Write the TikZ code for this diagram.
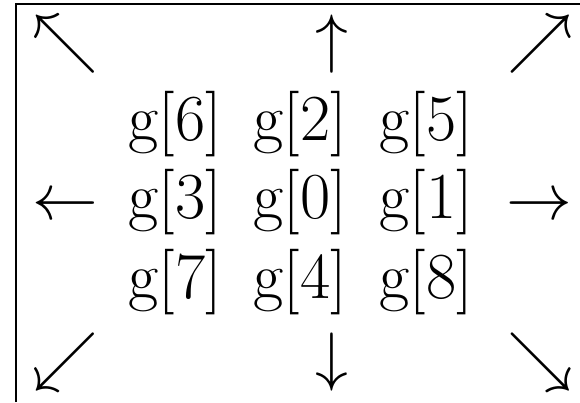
\documentclass[tikz,border=0pt]{standalone}
\tikzset{
  big/.style={inner sep=0pt, font=\Huge, scale=2.64},
  cell/.style={big, anchor=center},
  arr/.style={big, anchor=base},
  frameline/.style={line width=1.2pt}
}
\begin{document}
\begin{tikzpicture}[x=1pt,y=1pt]
\useasboundingbox (0,0) rectangle (580,402);
\draw[frameline] (16,0) -- (16,398) -- (580,398);
% grid of g[i]
\node[cell] (g6) at (175,277.5) {g[6]};
\node[cell] (g2) at (300,277.5) {g[2]};
\node[cell] (g5) at (426,277.5) {g[5]};
\node[cell] (g3) at (175,199.5) {g[3]};
\node[cell] (g0) at (300,199.5) {g[0]};
\node[cell] (g1) at (426,199.5) {g[1]};
\node[cell] (g7) at (175,119.5) {g[7]};
\node[cell] (g4) at (300,119.5) {g[4]};
\node[cell] (g8) at (426,119.5) {g[8]};
% arrows
\node[arr] (nw) at (65,341.75) {$\nwarrow$};
\node[arr] (n)  at (332,341.75) {$\uparrow$};
\node[arr] (ne) at (540,341.75) {$\nearrow$};
\node[arr] (w)  at (65,182.75) {$\leftarrow$};
\node[arr] (e)  at (539.5,182.75) {$\rightarrow$};
\node[arr] (sw) at (65,23.75) {$\swarrow$};
\node[arr] (s)  at (332,23.75) {$\downarrow$};
\node[arr] (se) at (540,23.75) {$\searrow$};
\end{tikzpicture}
\end{document}
